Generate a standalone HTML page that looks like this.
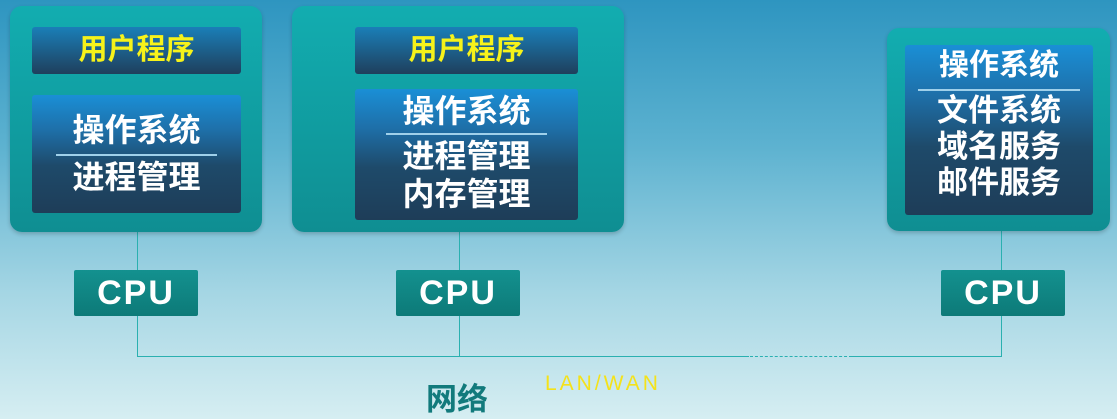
<!DOCTYPE html>
<html><head><meta charset="utf-8"><style>
body{margin:0;width:1117px;height:419px;overflow:hidden;position:relative;font-family:"Liberation Sans","Noto Sans CJK SC",sans-serif;font-weight:bold;
background:linear-gradient(180deg,#2e95c0 0%,#5db2d0 35%,#a5d6e4 70%,#d6eef2 100%);}
.box{position:absolute;border-radius:12px;background:linear-gradient(180deg,#12adb0,#0f8e92);box-shadow:0 2px 4px rgba(0,0,0,.2)}
.in{position:absolute;border-radius:3px;background:linear-gradient(180deg,#1a8fd6 0%,#1e6fa8 30%,#1e4a6a 60%,#1e3d58 100%);color:#fff;text-align:center}
.u{color:#f6f21a;font-size:29px;line-height:47px;background:linear-gradient(180deg,#1a7fb8,#1f3f5c)}
.t{font-size:32px;line-height:38px}
.hr{height:2px;background:#9fd0ea;margin:0 auto}
.cpu{position:absolute;width:124px;height:46px;background:linear-gradient(180deg,#13918f,#0d7a78);color:#fff;font-size:34px;line-height:46px;text-align:center;border-radius:2px;letter-spacing:2px}
.l{position:absolute;background:#2ab0b0}
</style></head><body>
<div class="l" style="left:137px;top:232px;width:1px;height:125px"></div>
<div class="l" style="left:459px;top:232px;width:1px;height:125px"></div>
<div class="l" style="left:1001px;top:231px;width:1px;height:126px"></div>
<div class="l" style="left:137px;top:356px;width:612px;height:1px"></div>
<div style="position:absolute;left:750px;top:356px;width:102px;border-top:1px dashed #2ab0b0"></div>
<div class="l" style="left:852px;top:356px;width:150px;height:1px"></div>

<div class="box" style="left:10px;top:6px;width:252px;height:226px"></div>
<div class="in u" style="left:32px;top:27px;width:209px;height:47px">用户程序</div>
<div class="in" style="left:32px;top:95px;width:209px;height:118px">
<div class="t" style="margin-top:16px">操作系统</div><div class="hr" style="width:161px;margin-top:5px"></div><div class="t" style="margin-top:2px">进程管理</div></div>

<div class="box" style="left:292px;top:6px;width:332px;height:226px"></div>
<div class="in u" style="left:355px;top:27px;width:223px;height:47px">用户程序</div>
<div class="in" style="left:355px;top:89px;width:223px;height:131px">
<div class="t" style="margin-top:3px">操作系统</div><div class="hr" style="width:161px;margin-top:3px"></div><div class="t" style="margin-top:2px;line-height:38px">进程管理<br>内存管理</div></div>

<div class="box" style="left:887px;top:28px;width:223px;height:203px"></div>
<div class="in" style="left:905px;top:45px;width:188px;height:170px">
<div class="t" style="margin-top:2px;font-size:30px">操作系统</div><div class="hr" style="width:162px;margin-top:4px"></div><div class="t" style="margin-top:2px;line-height:36px;font-size:31px">文件系统<br>域名服务<br>邮件服务</div></div>

<div class="cpu" style="left:74px;top:270px">CPU</div>
<div class="cpu" style="left:396px;top:270px">CPU</div>
<div class="cpu" style="left:941px;top:270px">CPU</div>

<div style="position:absolute;left:426px;top:374px;font-size:31px;color:#127a7c">网络</div>
<div style="position:absolute;left:545px;top:372px;font-size:21px;color:#f4e21a;font-weight:normal;letter-spacing:3px">LAN/WAN</div>
</body></html>
